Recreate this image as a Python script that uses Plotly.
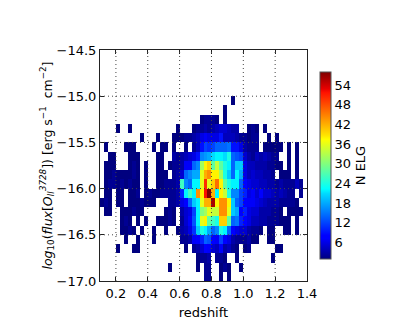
# -*- coding: utf-8 -*-
import plotly.graph_objects as go

X_TICKS = [0.2, 0.4, 0.6, 0.8, 1.0, 1.2, 1.4]
Y_TICKS = [-14.5, -15.0, -15.5, -16.0, -16.5, -17.0]
CBAR_TICKS = [6, 12, 18, 24, 30, 36, 42, 48, 54]

# bin edges: 52 redshift columns, 25 flux rows
x_start, x_step, n_cols = 0.1, 0.025, 52
y_start, y_step, n_rows = -14.5, -0.1, 25

# counts per flux row, top to bottom, only rows that hold something
row_05 = [0] * 33 + [1]
row_06 = [0] * 31 + [1]
row_07 = [0] * 25 + [1, 2, 2, 2, 1, 0, 1]
row_08 = [0,0,0,0,1,0,0,1,0,0, 0,0,0,0,0,0,0,0,0,1, 0,0,0,1,2,2,3,2,3,4, 5,5,4,3,3,0,0,1,2,1, 0,1]
row_09 = [0,0,0,0,0,0,0,0,0,0, 1,0,0,0,1,0,0,0,1,1, 1,2,2,3,4,6,7,6,6,6, 9,4,4,4,3,2,2,1,2,2, 0,0,1,0,1]
row_10 = [0,1,0,0,0,0,1,1,1,0, 0,0,0,1,0,1,1,0,1,0, 0,1,0,2,4,9,12,11,12,14, 14,14,15,9,9,6,3,2,2,2, 0,1,1,1,1,1,0,1,0,1]
row_11 = [0,0,1,1,0,0,0,1,1,1, 0,0,0,0,1,1,0,0,3,2, 3,4,5,6,9,16,17,18,21,22, 22,21,24,14,13,12,5,3,2,4, 3,4,3,2,2,0,0,1,0,1]
row_12 = [0,1,1,1,0,0,0,1,2,1, 0,1,0,0,1,1,0,1,2,2, 3,7,7,14,16,32,38,40,28,34, 28,24,22,14,20,20,6,4,4,3, 3,3,2,2,1,1,0,1,0,1]
row_13 = [0,1,1,2,1,1,1,1,2,1, 0,1,0,0,1,1,1,0,2,3, 5,14,16,18,18,36,42,44,38,38, 32,24,20,14,22,18,6,4,5,4, 4,3,3,2,0,1,1,1,0,1]
row_14 = [0,1,2,2,1,2,1,2,1,1, 0,1,0,0,1,1,2,2,2,3, 26,16,14,22,22,36,50,36,40,46, 38,28,24,22,22,14,8,6,5,5, 4,4,3,3,2,3,2,2,2,4, 2]
row_15 = [0,1,1,0,1,1,0,1,1,2, 0,1,2,1,1,2,2,2,2,3, 10,22,26,22,44,38,52,58,42,22, 38,34,24,16,16,12,10,6,7,5, 8,5,5,4,3,4,3,2,2,0, 2]
row_16 = [1,2,1,0,1,1,0,1,1,1, 2,1,1,1,0,0,0,2,2,3, 6,8,14,20,22,36,42,42,56,38, 44,44,38,20,14,12,8,7,7,6, 5,4,3,3,3,2,2,2,2,1]
row_17 = [0,1,1,0,0,1,1,1,2,1, 1,0,0,0,0,0,1,2,1,0, 3,5,6,12,22,30,32,36,34,34, 44,44,36,20,18,8,10,6,5,5, 3,3,3,2,2,1,0,1,1,1, 1]
row_18 = [0,0,0,0,0,1,2,1,0,1, 0,1,0,0,1,1,1,2,1,0, 2,5,7,13,22,36,38,28,26,24, 40,40,28,14,15,10,8,6,4,4, 3,3,2,2,2,1,1,1,0,1]
row_19 = [0,0,0,0,0,1,1,2,1,0, 1,0,0,1,0,0,1,0,0,1, 3,4,6,11,20,24,22,18,14,16, 24,22,14,8,6,5,5,3,2,2, 1,0,1,1,0,0,1,1,0,1]
row_20 = [0,0,0,0,0,0,1,0,0,1, 0,0,0,1,0,0,0,0,0,0, 2,2,3,7,8,10,14,13,8,7, 12,8,6,3,2,2,2,3,1,1, 0,0,1,1]
row_21 = [0,0,0,0,1,0,0,0,1,1, 0,0,0,0,0,0,0,0,0,0, 0,1,0,2,3,5,8,7,5,4, 7,3,4,2,1,0,1,2,0,0, 0,0,0,0,1,1]
row_22 = [0] * 24 + [1,2,2,3,0,2, 2,1,0,0,1,0,0,0,0,0, 0,0,0,1]
row_23 = [0] * 17 + [1,0,0, 0,0,0,0,1,0,2,2,0,0, 1,2,1,0,0,1]
row_24 = [0] * 26 + [2,2,0,0, 1,0,1]

rows = {
    5: row_05, 6: row_06, 7: row_07, 8: row_08, 9: row_09, 10: row_10,
    11: row_11, 12: row_12, 13: row_13, 14: row_14, 15: row_15, 16: row_16,
    17: row_17, 18: row_18, 19: row_19, 20: row_20, 21: row_21, 22: row_22,
    23: row_23, 24: row_24,
}

JET = [
    [0.0, "rgb(0,0,127)"],
    [0.11, "rgb(0,0,255)"],
    [0.125, "rgb(0,0,255)"],
    [0.35, "rgb(0,219,255)"],
    [0.375, "rgb(0,255,255)"],
    [0.64, "rgb(255,255,0)"],
    [0.66, "rgb(255,230,0)"],
    [0.89, "rgb(255,18,0)"],
    [0.91, "rgb(232,0,0)"],
    [1.0, "rgb(127,0,0)"],
]

FONT = "DejaVu Sans"

z = []
for r in range(n_rows):
    row = rows.get(r, [])
    row = row + [0] * (n_cols - len(row))
    z.append([v if v > 0 else None for v in row])

x_edges = [x_start + i * x_step for i in range(n_cols + 1)]
y_edges = [y_start + i * y_step for i in range(n_rows + 1)]

fig = go.Figure()
fig.add_trace(
    go.Heatmap(
        x=x_edges,
        y=y_edges,
        z=z,
        zmin=1,
        zmax=58,
        colorscale=JET,
        hoverongaps=False,
        colorbar=dict(
            x=1.065,
            xanchor="left",
            y=0.5,
            yanchor="middle",
            thickness=11,
            lenmode="pixels",
            len=187,
            xpad=0,
            ypad=0,
            tickvals=CBAR_TICKS,
            ticks="",
            ticklabelposition="outside",
            tickfont=dict(family=FONT, size=13, color="black"),
            outlinecolor="#555555",
            outlinewidth=1,
            title=dict(
                text="N ELG",
                side="right",
                font=dict(family=FONT, size=13, color="black"),
            ),
        ),
    )
)

# dotted grid sits on top of the cells in the original
for t in X_TICKS[:-1]:
    fig.add_shape(
        type="line", xref="x", yref="paper", x0=t, x1=t, y0=0, y1=1,
        line=dict(color="#444444", width=1, dash="1px,3px"), layer="above",
    )
for t in Y_TICKS[1:-1]:
    fig.add_shape(
        type="line", xref="paper", yref="y", x0=0, x1=1, y0=t, y1=t,
        line=dict(color="#444444", width=1, dash="1px,3px"), layer="above",
    )

axis_style = dict(
    showgrid=False,
    zeroline=False,
    showline=True,
    linecolor="#222222",
    linewidth=1,
    mirror="ticks",
    ticks="inside",
    ticklen=4,
    tickcolor="#222222",
    tickfont=dict(family=FONT, size=13, color="black"),
)

fig.update_xaxes(
    range=[0.1, 1.4],
    tickvals=X_TICKS,
    ticktext=[f"{t:.1f}" for t in X_TICKS],
    title=dict(text="redshift", font=dict(family=FONT, size=13, color="black"), standoff=8),
    **axis_style,
)
fig.update_yaxes(
    range=[-17.0, -14.5],
    tickvals=Y_TICKS,
    ticktext=[f"\u2212{abs(t):.1f}" for t in Y_TICKS],
    title=dict(
        text="<i>log</i><sub>10</sub>(<i>flux</i>[<i>O</i><sub><i>II</i></sub><sup><i>3728</i></sup>]) [erg s<sup>\u22121</sup>\u00a0 cm<sup>\u22122</sup>]",
        font=dict(family=FONT, size=12.5, color="black"),
        standoff=1,
    ),
    **axis_style,
)

# the page adds an 8px body margin, so the margins are shifted to compensate
fig.update_layout(
    width=399,
    height=332,
    autosize=False,
    margin=dict(l=91.5, r=99.5, t=41.5, b=59),
    paper_bgcolor="white",
    plot_bgcolor="white",
    font=dict(family=FONT, color="black"),
    showlegend=False,
)

fig.write_html("out.html")
